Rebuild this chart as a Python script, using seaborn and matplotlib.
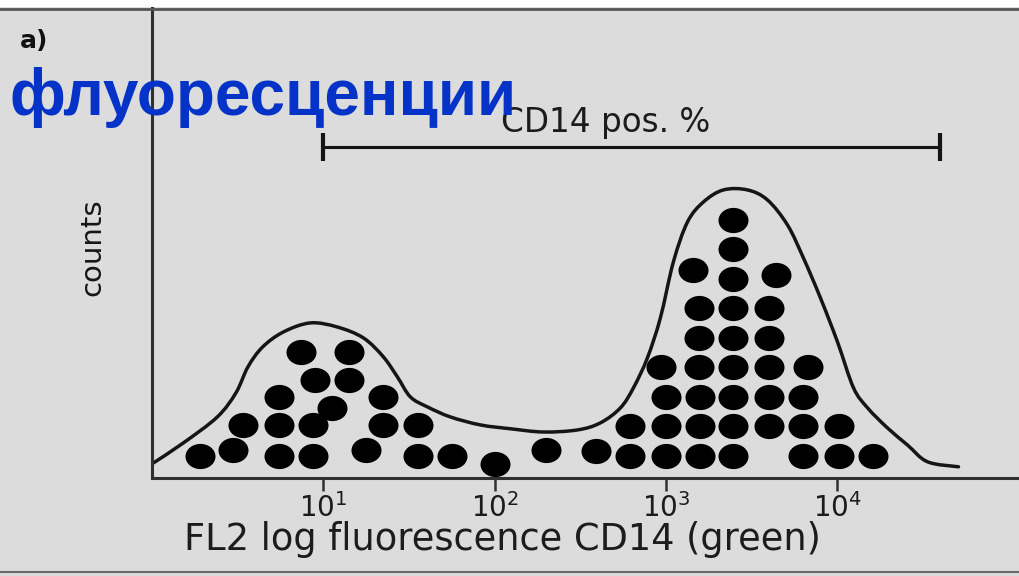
import matplotlib
matplotlib.use("Agg")
import numpy as np
import pandas as pd
import matplotlib.pyplot as plt
from matplotlib.path import Path
from matplotlib.transforms import Affine2D
from matplotlib.lines import Line2D
from matplotlib.patches import Rectangle, PathPatch
import seaborn as sns

# ---- data: FL2 (CD14) events, x in log10 decades, y in stacked counts ----
neg_log = [0.28, 0.47, 0.53, 0.74, 0.74, 0.74, 0.94, 0.94, 0.95, 0.87,
           1.05, 1.15, 1.15, 1.25, 1.35, 1.35, 1.55, 1.55, 1.75]
neg_count = [1.0, 1.2, 2.05, 1.0, 2.05, 3.0, 1.0, 2.05, 3.58, 4.53,
             2.63, 4.53, 3.58, 1.2, 3.0, 2.05, 2.05, 1.0, 1.0]

mid_log = [2.00, 2.30, 2.59]
mid_count = [0.73, 1.2, 1.15]

pos_log = [2.79, 3.00, 3.20, 3.39, 3.80, 4.01, 4.21,
           2.79, 3.00, 3.20, 3.39, 3.60, 3.80, 4.01,
           3.00, 3.20, 3.39, 3.60, 3.80,
           2.97, 3.19, 3.39, 3.60, 3.83,
           3.19, 3.39, 3.60,
           3.19, 3.39, 3.60,
           3.16, 3.39, 3.64,
           3.39,
           3.39]
pos_count = [1, 1, 1, 1, 1, 1, 1,
             2, 2, 2, 2, 2, 2, 2,
             3, 3, 3, 3, 3,
             4, 4, 4, 4, 4,
             5, 5, 5,
             6, 6, 6,
             7.3, 7.0, 7.15,
             8,
             9]

# histogram envelope
curve_log = [0.008, 0.183, 0.381, 0.490, 0.560, 0.645, 0.766, 0.924, 1.082,
             1.234, 1.350, 1.432, 1.508, 1.608, 1.742, 1.917, 2.092, 2.284,
             2.483, 2.617, 2.734, 2.810, 2.891, 2.967, 3.043, 3.125, 3.218,
             3.335, 3.475, 3.592, 3.709, 3.802, 3.901, 4.001, 4.094, 4.176,
             4.292, 4.409, 4.526, 4.707]
curve_count = [0.76, 1.44, 2.32, 3.14, 4.02, 4.69, 5.20, 5.51, 5.37,
               5.00, 4.36, 3.68, 3.00, 2.66, 2.32, 2.05, 1.92, 1.81,
               1.88, 2.12, 2.63, 3.31, 4.32, 5.68, 7.58, 8.93, 9.61,
               10.02, 10.02, 9.68, 8.83, 7.71, 6.36, 4.86, 3.31, 2.63,
               1.95, 1.37, 0.80, 0.63]

# CD14-positive gate
gate_log = [1.0, 4.6]
gate_level = 11.47

tick_pos = [1, 2, 3, 4]
tick_labels = [r"$10^{1}$", r"$10^{2}$", r"$10^{3}$", r"$10^{4}$"]

events = pd.DataFrame({
    "log_fl": neg_log + mid_log + pos_log,
    "count": neg_count + mid_count + pos_count,
})

# ---- style ----
sns.set_theme(style="ticks")
plt.rcParams["font.family"] = ["DejaVu Sans"]
bg = "#dcdcdc"
ink = "#151515"

fig = plt.figure(figsize=(10.19, 5.76), dpi=100, facecolor=bg)
ax = fig.add_axes([152 / 1019, 98 / 576, 867 / 1019, 470 / 576])
ax.set_facecolor("none")

# envelope drawn as a smooth Bezier path through the measured points
pts = np.column_stack([curve_log, curve_count])
ext = np.vstack([pts[:1], pts, pts[-1:]])
verts = [pts[0]]
codes = [Path.MOVETO]
for i in range(len(pts) - 1):
    p0, p1, p2, p3 = ext[i], ext[i + 1], ext[i + 2], ext[i + 3]
    verts += [p1 + (p2 - p0) / 6, p2 - (p3 - p1) / 6, p2]
    codes += [Path.CURVE4] * 3
ax.add_patch(PathPatch(Path(verts, codes), facecolor="none", edgecolor=ink,
                       linewidth=2.5, capstyle="round", zorder=2))

# slightly flattened disc marker
dot = Path.unit_circle().transformed(Affine2D().scale(1.0, 0.84))
sns.scatterplot(data=events, x="log_fl", y="count", marker=dot, s=467,
                color="black", linewidth=0, legend=False, ax=ax, zorder=3)

# gate bracket
ax.plot(gate_log, [gate_level, gate_level], color=ink, linewidth=2.2,
        marker="|", markersize=20, markeredgewidth=3, solid_capstyle="butt")
ax.text(2.646, 11.98, "CD14 pos. %", ha="center", va="baseline",
        fontsize=23.5, color="#1c1c1c")

ax.set_xlim(0, 5.06)
ax.set_ylim(0.25, 16.19)
ax.set_xticks(tick_pos)
ax.set_xticklabels(tick_labels, fontsize=20, color="#1c1c1c")
ax.set_yticks([])
ax.tick_params(axis="x", direction="out", length=9, width=1.8,
               color="#303030", pad=2)

for side in ("top", "right"):
    ax.spines[side].set_visible(False)
for side in ("left", "bottom"):
    ax.spines[side].set_color("#303030")
    ax.spines[side].set_linewidth(2.2)

ax.set_xlabel("FL2 log fluorescence CD14 (green)", fontsize=26.5, color="#1c1c1c")
ax.xaxis.set_label_coords(0.4037, -0.1532)
ax.xaxis.label.set_va("baseline")
ax.set_ylabel("counts", fontsize=21, color="#151515")
ax.yaxis.set_label_coords(-0.069, 0.491)
ax.yaxis.label.set_va("center")

# frame of the panel
fig.add_artist(Rectangle((0, 1 - 7 / 576), 1, 7 / 576, transform=fig.transFigure,
                         facecolor="white", edgecolor="none", zorder=0))
fig.add_artist(Line2D([0, 1], [1 - 8.5 / 576] * 2, transform=fig.transFigure,
                      color="#555555", linewidth=2))
fig.add_artist(Line2D([0, 1], [4 / 576] * 2, transform=fig.transFigure,
                      color="#6a6a6a", linewidth=1.5))

fig.text(20 / 1019, 1 - 48 / 576, "a)", fontsize=18, fontweight="bold",
         color="#111111", va="baseline", ha="left")
fig.text(10 / 1019, 1 - 115 / 576, "флуоресценции", fontsize=46,
         family=["Liberation Sans", "DejaVu Sans"], fontweight="bold",
         color="#0533c8", va="baseline", ha="left", zorder=5)

fig.savefig("out.png", dpi=100, facecolor=bg)
